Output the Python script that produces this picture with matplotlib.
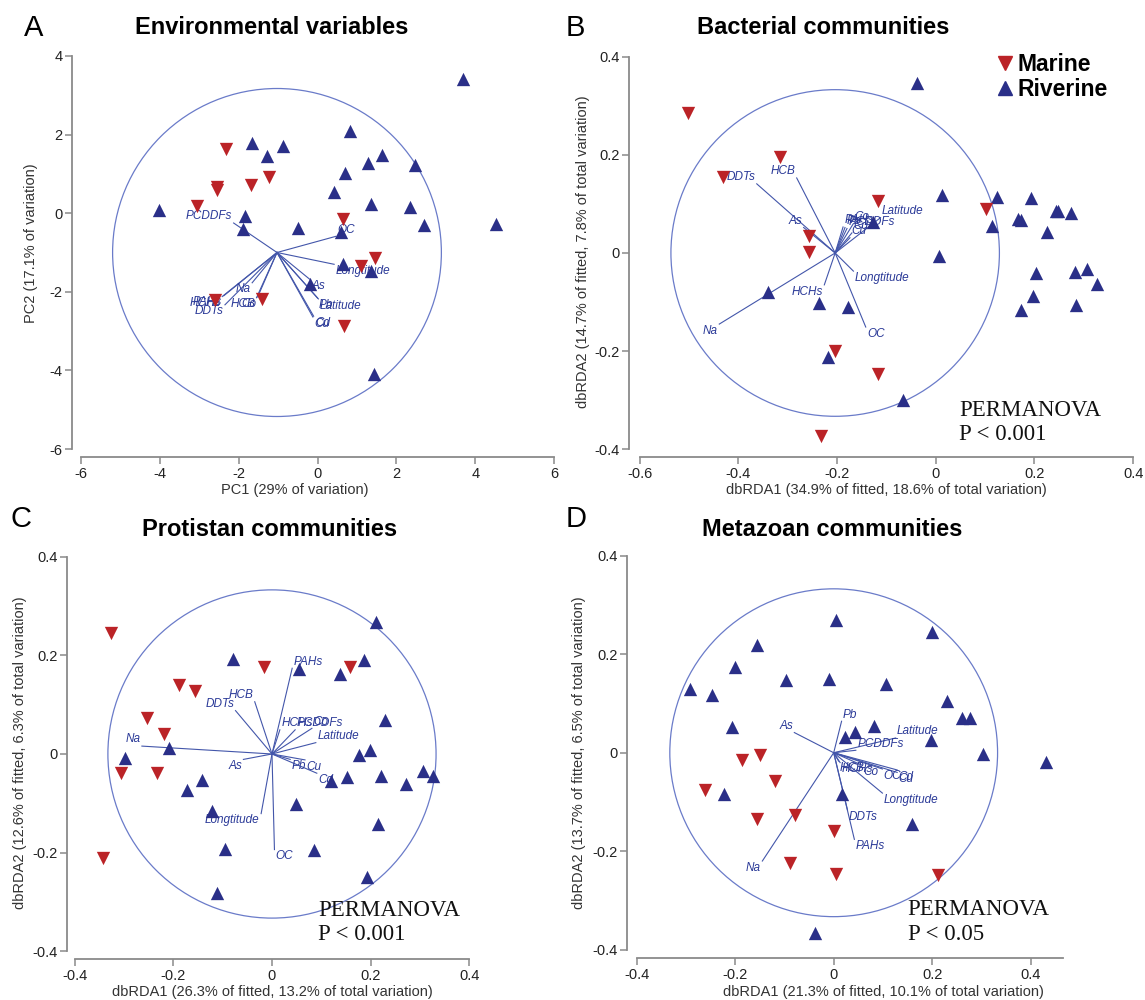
import matplotlib.pyplot as plt
from matplotlib.patches import Circle
from matplotlib.lines import Line2D

plt.rcParams['font.family'] = ['Liberation Sans', 'DejaVu Sans']
plt.rcParams['axes.unicode_minus'] = False

# ---------------- data ----------------
# A: PCA of environmental variables
A_riv_x = [3.70, 0.83, -1.67, -0.89, -1.28, 1.64, 1.29, 2.47, 0.69, 0.42, 1.36, 2.35,
           -4.03, -1.85, 2.69, 4.53, -1.90, -0.49, 0.59, 0.65, 1.36, -0.19, 1.43]
A_riv_y = [3.42, 2.08, 1.79, 1.70, 1.46, 1.47, 1.28, 1.22, 1.03, 0.54, 0.23, 0.16,
           0.09, -0.08, -0.29, -0.28, -0.41, -0.37, -0.47, -1.28, -1.47, -1.81, -4.10]
A_mar_x = [-2.32, -2.55, -2.55, -1.69, -1.23, -3.06, 0.65, 1.45, 1.11, -2.60, -1.40, 0.67]
A_mar_y = [1.63, 0.67, 0.58, 0.71, 0.92, 0.19, -0.16, -1.13, -1.35, -2.21, -2.19, -2.86]
A_vars = ['PCDDFs', 'OC', 'Longtitude', 'As', 'Latitude', 'Pb', 'Cd', 'Cu',
          'Na', 'HCB', 'Co', 'PAHs', 'HCHs', 'DDTs']
A_vec_x = [-2.13, 0.46, 0.42, -0.20, 0.02, 0.00, -0.10, -0.12, -1.66, -1.55, -1.52, -2.38, -2.42, -2.35]
A_vec_y = [-0.25, -0.59, -1.30, -1.68, -2.18, -2.16, -2.62, -2.64, -1.77, -2.15, -2.13, -2.10, -2.12, -2.33]
A_center = (-1.03, -1.0)
A_radius = 4.17

# B: bacterial dbRDA
B_riv_x = [-0.039, 0.013, 0.125, 0.194, 0.166, 0.172, 0.244, 0.248, 0.274, 0.114, 0.225, -0.128, 0.006,
           0.203, 0.283, 0.306, 0.326, 0.197, 0.285, 0.172, -0.341, -0.237, -0.178, -0.219, -0.066]
B_riv_y = [0.347, 0.119, 0.115, 0.113, 0.070, 0.068, 0.086, 0.085, 0.081, 0.056, 0.042, 0.064, -0.007,
           -0.041, -0.039, -0.033, -0.063, -0.088, -0.106, -0.117, -0.080, -0.103, -0.110, -0.212, -0.300]
B_mar_x = [-0.503, -0.316, -0.431, -0.118, 0.101, -0.258, -0.258, -0.204, -0.118, -0.232]
B_mar_y = [0.286, 0.195, 0.154, 0.106, 0.089, 0.035, 0.003, -0.200, -0.246, -0.373]
B_vars = ['DDTs', 'HCB', 'As', 'Na', 'HCHs', 'OC', 'Longtitude', 'Latitude',
          'Co', 'PCDDFs', 'PAHs', 'Pb', 'Cd', 'Cu']
B_vec_x = [-0.363, -0.282, -0.268, -0.439, -0.226, -0.142, -0.167, -0.112, -0.167, -0.180, -0.188, -0.184, -0.170, -0.174]
B_vec_y = [0.141, 0.153, 0.052, -0.145, -0.065, -0.151, -0.037, 0.072, 0.060, 0.050, 0.053, 0.052, 0.041, 0.031]
B_center = (-0.204, 0.0)
B_radius = 0.333

# C: protistan dbRDA
C_riv_x = [0.212, -0.080, 0.186, 0.055, 0.138, 0.230, -0.210, 0.199, -0.299, 0.177, 0.307, 0.326, -0.143,
           0.153, 0.222, 0.120, 0.271, -0.172, 0.049, -0.122, 0.216, -0.095, 0.086, 0.193, -0.112]
C_riv_y = [0.267, 0.192, 0.191, 0.173, 0.162, 0.069, 0.013, 0.009, -0.009, -0.003, -0.034, -0.045, -0.053,
           -0.047, -0.044, -0.054, -0.061, -0.073, -0.102, -0.115, -0.142, -0.192, -0.194, -0.249, -0.283]
C_mar_x = [-0.327, -0.017, 0.159, -0.189, -0.157, -0.253, -0.220, -0.307, -0.233, -0.342]
C_mar_y = [0.246, 0.177, 0.177, 0.140, 0.127, 0.074, 0.041, -0.038, -0.038, -0.211]
C_vars = ['PAHs', 'HCB', 'DDTs', 'HCHs', 'PCDDFs', 'Co', 'Latitude', 'Na',
          'As', 'Pb', 'Cu', 'Cd', 'Longtitude', 'OC']
C_vec_x = [0.041, -0.035, -0.074, 0.016, 0.047, 0.081, 0.089, -0.264, -0.058, 0.037, 0.067, 0.091, -0.022, 0.005]
C_vec_y = [0.174, 0.106, 0.088, 0.049, 0.049, 0.052, 0.023, 0.016, -0.011, -0.011, -0.012, -0.039, -0.121, -0.194]
C_center = (0.0, 0.0)
C_radius = 0.333

# D: metazoan dbRDA
D_riv_x = [0.005, 0.199, -0.156, -0.201, -0.291, -0.247, -0.097, -0.010, 0.107, 0.231, 0.261, 0.277,
           -0.207, 0.081, 0.044, 0.022, 0.198, 0.304, 0.431, -0.222, 0.016, 0.159, -0.039]
D_riv_y = [0.269, 0.245, 0.218, 0.174, 0.130, 0.118, 0.147, 0.149, 0.140, 0.106, 0.071, 0.071,
           0.052, 0.054, 0.042, 0.032, 0.025, -0.003, -0.019, -0.083, -0.083, -0.145, -0.367]
D_mar_x = [-0.186, -0.150, -0.119, -0.261, -0.156, -0.079, 0.000, -0.089, 0.005, 0.211]
D_mar_y = [-0.014, -0.005, -0.058, -0.076, -0.135, -0.127, -0.159, -0.225, -0.246, -0.248]
D_vars = ['Pb', 'As', 'Latitude', 'PCDDFs', 'HCB', 'HCHs', 'Co', 'OC',
          'Cd', 'Cu', 'Longtitude', 'DDTs', 'PAHs', 'Na']
D_vec_x = [0.016, -0.080, 0.126, 0.045, 0.010, 0.013, 0.057, 0.099, 0.129, 0.129, 0.099, 0.028, 0.042, -0.145]
D_vec_y = [0.064, 0.041, 0.030, 0.005, -0.017, -0.020, -0.025, -0.033, -0.035, -0.040, -0.082, -0.116, -0.176, -0.220]
D_center = (0.0, 0.0)
D_radius = 0.333

# ---------------- style ----------------
RIV = '#2a2f88'
MAR = '#bb2327'
CIRC = '#6a7bc9'
VEC = '#4356aa'
LAB = '#2b3a98'
SPINE = '#8a8a8a'

W, H = 1145, 1000
fig = plt.figure(figsize=(W / 100, H / 100), dpi=100)


def axes_px(left, top, right, bottom):
    return fig.add_axes([left / W, 1 - bottom / H, (right - left) / W, (bottom - top) / H])


def ftext(x, y, s, **kw):
    fig.text(x / W, 1 - y / H, s, **kw)


def panel(ax, xlim, ylim, xticks, yticks, xend, center, radius,
          names, vx, vy, rx, ry, mx, my):
    ax.set_xlim(*xlim)
    ax.set_ylim(*ylim)
    for s in ['top', 'right']:
        ax.spines[s].set_visible(False)
    for s in ['left', 'bottom']:
        ax.spines[s].set_color(SPINE)
        ax.spines[s].set_linewidth(1.3)
    ax.spines['left'].set_bounds(yticks[0], yticks[-1])
    ax.spines['bottom'].set_bounds(xticks[0], xend)
    ax.set_xticks(xticks)
    ax.set_yticks(yticks)
    ax.set_xticklabels(['%g' % t for t in xticks])
    ax.set_yticklabels(['%g' % t for t in yticks])
    ax.tick_params(direction='out', length=5, width=1.1, color=SPINE,
                   labelsize=10.5, labelcolor='#222222', pad=2)
    ax.patch.set_alpha(0)

    ax.add_patch(Circle(center, radius, fill=False, ec=CIRC, lw=0.9, zorder=1))
    ox, oy = center
    for name, x, y in zip(names, vx, vy):
        dx, dy = x - ox, y - oy
        ax.plot([ox, x], [oy, y], color=VEC, lw=0.8, zorder=2)
        ax.annotate(name, (x, y),
                    xytext=(1 if dx >= 0 else -1, 0.5 if dy >= 0 else -0.5),
                    textcoords='offset points',
                    ha='left' if dx >= 0 else 'right',
                    va='bottom' if dy >= 0 else 'top',
                    fontsize=8.5, style='italic', color=LAB, zorder=3)
    ax.scatter(rx, ry, marker='^', s=92, color=RIV, lw=0, zorder=4)
    ax.scatter(mx, my, marker='v', s=92, color=MAR, lw=0, zorder=4)


def permanova(ax, x, y, p):
    ax.text(x, y, 'PERMANOVA\n' + p, family='Liberation Serif', fontsize=16.5,
            ha='left', va='top', linespacing=1.2, color='#111111', zorder=5)


rda_ticks = [-0.4, -0.2, 0, 0.2, 0.4]

axA = axes_px(72, 48, 562, 457)
panel(axA, (-6.23, 6.2), (-6.2, 4.2), [-6, -4, -2, 0, 2, 4, 6], [-6, -4, -2, 0, 2, 4], 6,
      A_center, A_radius, A_vars, A_vec_x, A_vec_y, A_riv_x, A_riv_y, A_mar_x, A_mar_y)

axB = axes_px(629, 47, 1138, 457)
panel(axB, (-0.622, 0.41), (-0.416, 0.42), [-0.6, -0.4, -0.2, 0, 0.2, 0.4], rda_ticks, 0.4,
      B_center, B_radius, B_vars, B_vec_x, B_vec_y, B_riv_x, B_riv_y, B_mar_x, B_mar_y)
permanova(axB, 0.047, -0.299, 'P < 0.001')

axC = axes_px(67, 547, 474, 959)
panel(axC, (-0.416, 0.41), (-0.416, 0.42), rda_ticks, rda_ticks, 0.4,
      C_center, C_radius, C_vars, C_vec_x, C_vec_y, C_riv_x, C_riv_y, C_mar_x, C_mar_y)
permanova(axC, 0.093, -0.296, 'P < 0.001')

axD = axes_px(627, 546, 1065, 958)
panel(axD, (-0.42, 0.47), (-0.417, 0.42), rda_ticks, rda_ticks, 0.465,
      D_center, D_radius, D_vars, D_vec_x, D_vec_y, D_riv_x, D_riv_y, D_mar_x, D_mar_y)
permanova(axD, 0.150, -0.298, 'P < 0.05')

# legend in B
handles = [Line2D([], [], marker='v', ls='none', color=MAR, markersize=9.5),
           Line2D([], [], marker='^', ls='none', color=RIV, markersize=9.5)]
axB.legend(handles, ['Marine', 'Riverine'], loc='upper left', bbox_to_anchor=(0.722, 0.985),
           frameon=False, prop={'weight': 'bold', 'size': 16.5}, handlelength=0.7,
           handletextpad=0.2, labelspacing=0.08, borderpad=0, borderaxespad=0)

# titles and panel letters
tt = dict(ha='center', va='center', fontsize=17, weight='bold')
ftext(272, 28, 'Environmental variables', **tt)
ftext(823, 28, 'Bacterial communities', **tt)
ftext(270, 529, 'Protistan communities', **tt)
ftext(832, 529, 'Metazoan communities', **tt)
for x, y, s in [(34, 28, 'A'), (575, 28, 'B'), (21, 519, 'C'), (576, 519, 'D')]:
    ftext(x, y, s, ha='center', va='center', fontsize=21)

# axis labels
lab = dict(ha='center', va='center', fontsize=10.5, color='#333333')
ftext(295, 490, 'PC1 (29% of variation)', **lab)
ftext(31, 243, 'PC2 (17.1% of variation)', rotation=90, **lab)
ftext(886, 490, 'dbRDA1 (34.9% of fitted, 18.6% of total variation)', **lab)
ftext(583, 252, 'dbRDA2 (14.7% of fitted, 7.8% of total variation)', rotation=90, **lab)
ftext(272, 992, 'dbRDA1 (26.3% of fitted, 13.2% of total variation)', **lab)
ftext(20, 753, 'dbRDA2 (12.6% of fitted, 6.3% of total variation)', rotation=90, **lab)
ftext(883, 992, 'dbRDA1 (21.3% of fitted, 10.1% of total variation)', **lab)
ftext(579, 753, 'dbRDA2 (13.7% of fitted, 6.5% of total variation)', rotation=90, **lab)

fig.savefig('out.png', dpi=100)
